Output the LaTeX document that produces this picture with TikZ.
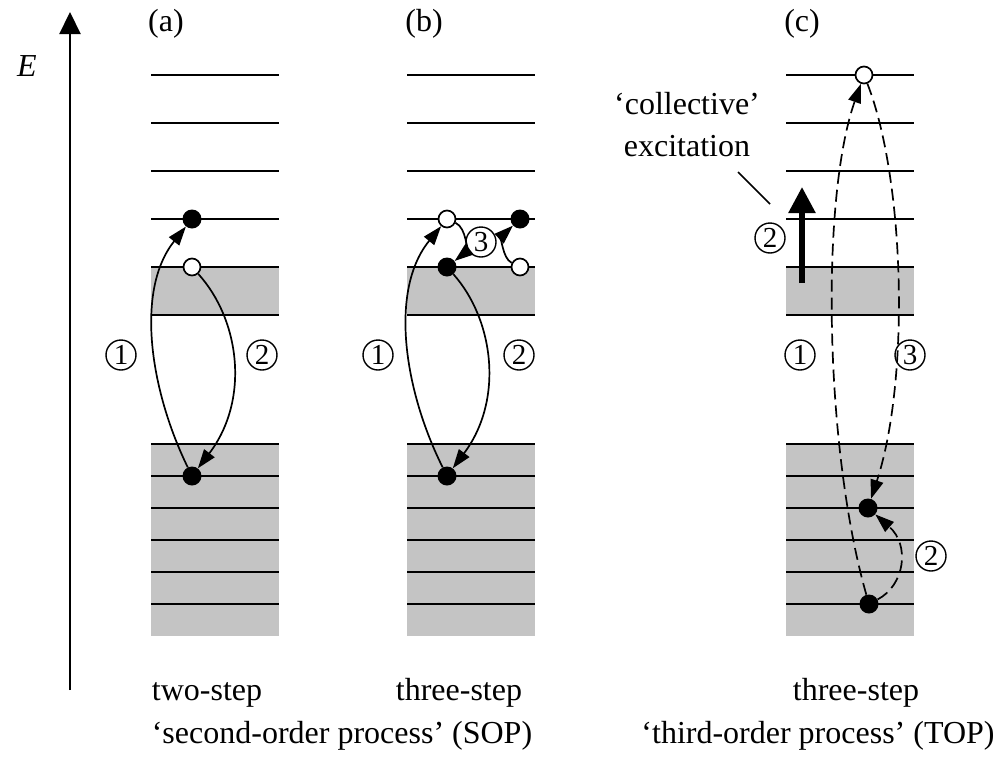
\documentclass[tikz,border=0pt]{standalone}
\usepackage{fontspec}
\setmainfont{Liberation Serif}
\usetikzlibrary{arrows.meta}
\definecolor{ink}{HTML}{000000}
\definecolor{band}{HTML}{C4C4C4}
\newcommand{\figfontsize}{\fontsize{32}{42}\selectfont}
\tikzset{
  every picture/.style = {font=\figfontsize, line join=round},
  level/.style         = {line width=2pt, ink},
  curve/.style         = {line width=1.7pt, ink, -{Triangle[length=19pt, width=13pt]}},
  dashcurve/.style     = {curve, dash pattern=on 12pt off 6pt},
  full/.style          = {circle, fill=ink, inner sep=0pt, minimum size=19pt},
  hole/.style          = {circle, draw=ink, fill=white, line width=1.7pt, inner sep=0pt, minimum size=17pt},
  num/.style           = {circle, draw=ink, line width=1.4pt, inner sep=0pt, minimum size=30pt,
                          font=\fontsize{29}{29}\selectfont},
}

\begin{document}
\begin{tikzpicture}[x=1pt, y=-1pt]
  \useasboundingbox (0,0) rectangle (999,758);
  \def\W{128}   % width of a level column

  % ---------- bands and levels ------------------------------------------------
  \foreach \x in {151,407,786} {
    \fill[band] (\x,267) rectangle ++(\W,48);
    \fill[band] (\x,444) rectangle ++(\W,192);
    \foreach \y in {75,123,171,219,267,315}
      \draw[level] (\x,\y) -- ++(\W,0);
    \foreach \y in {444,476,...,604}
      \draw[level] (\x,\y) -- ++(\W,0);
  }

  % energy axis
  \coordinate (Ebot) at (70,690);
  \coordinate (Etop) at (70,12);
  \draw[line width=2.2pt, ink, -{Triangle[length=22pt, width=21pt]}] (Ebot) -- (Etop);
  \node (Elab) at (27,66) {\itshape E};

  \node[anchor=base] (la) at (166,31) {(a)};
  \node[anchor=base] (lb) at (424,31) {(b)};
  \node[anchor=base] (lc) at (802,31) {(c)};

  % ---------- (a): two-step -----------------------------------------------------
  \node[full] (aUp)   at (192,219) {};
  \node[hole] (aHole) at (192,267) {};
  \node[full] (aLow)  at (192,476) {};
  \draw[curve] (aLow)  .. controls (150,390) and (135,290) .. (aUp);
  \draw[curve] (aHole) .. controls (240,320) and (250,400) .. (aLow);
  \node[num] (a1) at (121,355) {1};
  \node[num] (a2) at (262,355) {2};

  % ---------- (b): three-step ---------------------------------------------------
  \node[hole] (bUpL)  at (447,219) {};
  \node[full] (bMidL) at (447,267) {};
  \node[full] (bUpR)  at (520,219) {};
  \node[hole] (bMidR) at (520,267) {};
  \node[full] (bLow)  at (447,476) {};
  \draw[curve] (bLow)  .. controls (404,390) and (389,290) .. (bUpL);
  \draw[curve] (bMidL) .. controls (494,320) and (504,400) .. (bLow);
  \draw[curve] (bUpL)  .. controls (467,228) and (466,252) .. (bMidL);
  \draw[curve] (bMidR) .. controls (502,258) and (502,236) .. (bUpR);
  \node[num] (b1) at (378,355) {1};
  \node[num] (b2) at (519,355) {2};
  \node[num] (b3) at (481,242) {3};

  % ---------- (c): three-step, collective -------------------------------------
  \node[hole] (cTop) at (864,75) {};
  \node[full] (cMid) at (868,508) {};
  \node[full] (cLow) at (869,604) {};
  \draw[dashcurve] (cLow) .. controls (825,450) and (820,200) .. (cTop);
  \draw[dashcurve] (cTop) .. controls (905,180) and (910,380) .. (cMid);
  \draw[dashcurve] (cLow) .. controls (905,585) and (910,545) .. (cMid);
  \node[num] (c1)  at (800,355) {1};
  \node[num] (c3)  at (910,355) {3};
  \node[num] (c2b) at (931,556) {2};

  \coordinate (exS) at (802,283);
  \coordinate (exE) at (802,187);
  \draw[line width=5.5pt, ink, -{Triangle[length=26pt, width=26pt]}] (exS) -- (exE);
  \node[num] (c2a) at (770,238) {2};
  \node[align=center] (coll) at (687,125) {`collective'\\excitation};
  \coordinate (lead1) at (738,172);
  \coordinate (lead2) at (770,204);
  \draw[line width=1.6pt, ink] (lead1) -- (lead2);

  % ---------- captions ------------------------------------------------------------
  \node[anchor=base] (ta) at (207,700) {two-step};
  \node[anchor=base] (tb) at (459,700) {three-step};
  \node[anchor=base] (tc) at (856,700) {three-step};
  \node[anchor=base] (sop) at (342,743) {`second-order process' (SOP)};
  \node[anchor=base] (top) at (818,743) {`third-order process' (TOP)};
\end{tikzpicture}
\end{document}
